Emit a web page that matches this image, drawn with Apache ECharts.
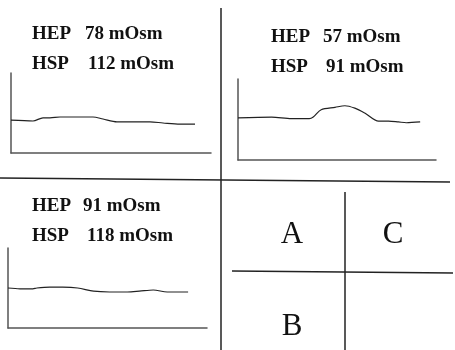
<!DOCTYPE html>
<html>
<head>
<meta charset="utf-8">
<script src="https://cdn.jsdelivr.net/npm/echarts@6/dist/echarts.min.js"></script>
<style>html,body{margin:0;padding:0;background:#fff}#c{width:455px;height:350px}</style>
</head>
<body>
<div id="c"></div>
<script>
// Trace A (top-left): [time, signal] in relative units 0-100
const traceA = [[0,41],[11,40],[16,44],[19.5,44],[24.5,45],[29.5,45],[34.5,45],[41,45],[46,42.5],[53,39],[61,39],[69.5,39],[76,37.5],[84.5,36],[92,36]];
// Trace C (top-right)
const traceC = [[0,52],[17,53],[27,51],[36,51],[38,53],[42,62],[49,65],[54,67],[59,64],[64,58],[71,48],[76,48],[81,47],[85,46],[92,47]];
// Trace B (bottom-left)
const traceB = [[0,50],[6,49],[12.5,49],[14.5,50],[21,51],[27.5,51],[35,50],[43,46],[51,45],[60,45],[66,46],[73,47.5],[80,45],[86,45],[90.5,45]];
const labelsA = [["HEP","78 mOsm"],["HSP","112 mOsm"]];
const labelsC = [["HEP","57 mOsm"],["HSP","91 mOsm"]];
const labelsB = [["HEP","91 mOsm"],["HSP","118 mOsm"]];
const legendLetters = ["A","C","B"];

const chart = echarts.init(document.getElementById('c'), null, {renderer:'canvas'});
const grids = [
  {left:11, top:73, width:200, height:80},
  {left:238, top:79, width:198, height:81},
  {left:8, top:248, width:199, height:80}
];
const axisCommon = {type:'value', min:0, max:100, axisLine:{show:true, onZero:false, lineStyle:{color:'#555', width:1.5}}, axisTick:{show:false}, axisLabel:{show:false}, splitLine:{show:false}};
const xAxes = grids.map((g,i)=>Object.assign({gridIndex:i}, axisCommon));
const yAxes = grids.map((g,i)=>Object.assign({gridIndex:i}, axisCommon));
const traces = [traceA, traceC, traceB];
const series = traces.map((d,i)=>({type:'line', xAxisIndex:i, yAxisIndex:i, data:d, showSymbol:false, smooth:0.3, lineStyle:{color:'#222', width:1.2}, animation:false}));

const font = {fontFamily:'"Liberation Serif", "Times New Roman", serif', fontWeight:'bold', fontSize:19, fill:'#111'};
const textEls = [];
function addLabels(labels, x1, x2s, ys){
  labels.forEach((l,i)=>{
    textEls.push({type:'text', left:x1, top:ys[i]-10, style:Object.assign({text:l[0]}, font)});
    textEls.push({type:'text', left:x2s[i], top:ys[i]-10, style:Object.assign({text:l[1]}, font)});
  });
}
addLabels(labelsA, 32, [85,88], [35,65]);
addLabels(labelsC, 271, [323,326], [38,68]);
addLabels(labelsB, 32, [83,87], [207,237]);

const lineStyle = {stroke:'#222', lineWidth:1.5};
const lines = [
  {type:'line', shape:{x1:221, y1:8, x2:221, y2:350}, style:lineStyle},
  {type:'line', shape:{x1:0, y1:178, x2:450, y2:182}, style:lineStyle},
  {type:'line', shape:{x1:345, y1:192, x2:345, y2:350}, style:lineStyle},
  {type:'line', shape:{x1:232, y1:271, x2:453, y2:273}, style:lineStyle}
];
const letterFont = {fontFamily:'"Liberation Serif", "Times New Roman", serif', fontSize:31, fill:'#111'};
const letterPos = [[292,235],[393,235],[292,327]];
legendLetters.forEach((t,i)=>{
  textEls.push({type:'text', x:letterPos[i][0], y:letterPos[i][1], style:Object.assign({text:t, align:'center', verticalAlign:'middle'}, letterFont)});
});

chart.setOption({
  animation:false,
  grid: grids,
  xAxis: xAxes,
  yAxis: yAxes,
  series: series,
  graphic: lines.concat(textEls)
});
</script>
</body>
</html>
